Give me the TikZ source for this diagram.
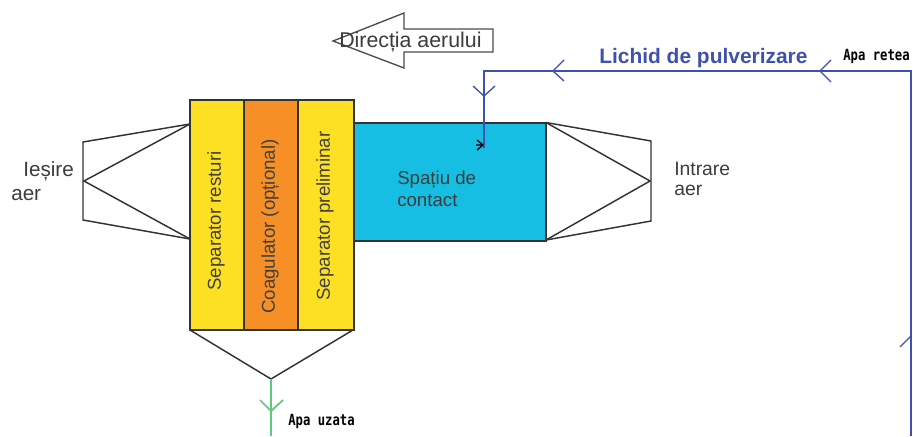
\documentclass[tikz,border=0pt]{standalone}
\usepackage{fontspec}
\setmainfont{Liberation Sans}
\newfontfamily\pixfont{DejaVu Sans Mono}
\definecolor{sepyellow}{HTML}{FDE023}
\definecolor{coagorange}{HTML}{F58F26}
\definecolor{contactblue}{HTML}{15BEE2}
\definecolor{pipeblue}{HTML}{3F51B0}
\definecolor{pipegreen}{HTML}{5CCB7A}
\definecolor{labelgrey}{HTML}{3C3C3C}
\definecolor{edgegrey}{HTML}{333333}
\tikzset{
  x=0.75pt,y=-0.75pt,
  chamber/.style={draw=edgegrey,line width=1.5pt,inner sep=0pt,outer sep=0pt,anchor=north west},
  vlabel/.style={rotate=90,font=\fontsize{14}{16}\selectfont,text=black!75,inner sep=0pt},
  lbl/.style={font=\fontsize{14}{16}\selectfont,text=labelgrey,inner sep=0pt,anchor=base west},
  tag/.style={font=\pixfont\bfseries\fontsize{11.5}{13}\selectfont,text=black,inner sep=0pt,anchor=base west},
  funnel/.style={draw=black!80,line width=1.1pt,line join=miter},
  pipe/.style={draw=pipeblue,line width=1pt},
  drain/.style={draw=pipegreen,line width=1.3pt},
}
\begin{document}
\begin{tikzpicture}
\useasboundingbox (0,0) rectangle (913,436);
% chambers
\node[chamber,fill=contactblue,minimum width=144pt,minimum height=88.5pt] (contact) at (354,122.5) {};
\node[chamber,fill=sepyellow,minimum width=40.5pt,minimum height=172.5pt] (rest) at (190,100) {};
\node[chamber,fill=coagorange,minimum width=40.5pt,minimum height=172.5pt] (coag) at (244,100) {};
\node[chamber,fill=sepyellow,minimum width=42pt,minimum height=172.5pt] (prelim) at (298,100) {};
\node[vlabel] (t1) at (216,221) {Separator resturi};
\node[vlabel] (t2) at (270,226.5) {Coagulator (opțional)};
\node[vlabel] (t3) at (325,216) {Separator preliminar};
% outlet funnel
\coordinate (lt) at (190,124);
\coordinate (lb) at (190,239);
\coordinate (ltt) at (83,142);
\coordinate (lbb) at (83,220);
\coordinate (lm) at (84,181);
\draw[funnel] (lt) -- (ltt) -- (lbb) -- (lb);
\draw[funnel] (lt) -- (lm) -- (lb);
% inlet funnel
\coordinate (rt) at (546,122.5);
\coordinate (rb) at (546,240);
\coordinate (rtt) at (651,141);
\coordinate (rbb) at (651,221);
\coordinate (rm) at (650,181);
\draw[funnel] (rt) -- (rtt) -- (rbb) -- (rb);
\draw[funnel] (rt) -- (rm) -- (rb);
% bottom hopper
\coordinate (hl) at (190,330);
\coordinate (hr) at (353,330);
\coordinate (hm) at (271,379);
\draw[funnel] (hl) -- (hm) -- (hr);
% drain
\coordinate (dend) at (271,436);
\coordinate (da) at (271,411);
\coordinate (dal) at (260,400);
\coordinate (dar) at (283,400);
\draw[drain] (hm) -- (dend);
\draw[drain] (dal) -- (da) -- (dar);
% pipe
\coordinate (p0) at (911,436);
\coordinate (p1) at (911,71);
\coordinate (p2) at (484,71);
\coordinate (p3) at (484,148);
\draw[pipe,line join=miter] (p0) -- (p1) -- (p2) -- (p3);
% pipe chevrons
\coordinate (c1) at (820,71);
\coordinate (c1a) at (831,60);
\coordinate (c1b) at (831,82);
\draw[pipe] (c1a) -- (c1) -- (c1b);
\coordinate (c2) at (553,71);
\coordinate (c2a) at (564,60);
\coordinate (c2b) at (564,81);
\draw[pipe] (c2a) -- (c2) -- (c2b);
\coordinate (c3) at (484,96);
\coordinate (c3a) at (473,86);
\coordinate (c3b) at (495,86);
\draw[pipe] (c3a) -- (c3) -- (c3b);
\coordinate (c4) at (911,336);
\coordinate (c4a) at (900,347);
\draw[pipe] (c4a) -- (c4);
% nozzle
\coordinate (nz0) at (483,145);
\coordinate (nz1) at (477,140);
\coordinate (nz2) at (477,150);
\coordinate (nz3) at (476,145);
\draw[black,line width=1pt] (nz1) -- (nz0) (nz2) -- (nz0) (nz3) -- (nz0);
% air direction arrow
\coordinate (a0) at (333,41);
\coordinate (a1) at (404,13);
\coordinate (a2) at (404,29);
\coordinate (a3) at (493,29);
\coordinate (a4) at (493,52);
\coordinate (a5) at (404,52);
\coordinate (a6) at (404,68);
\draw[draw=black!70,line width=1pt,fill=white] (a0) -- (a1) -- (a2) -- (a3) -- (a4) -- (a5) -- (a6) -- cycle;
\node[lbl,font=\fontsize{16}{18}\selectfont] (dir) at (339,47) {Direcția aerului};
% labels
\node[font=\bfseries\fontsize{15.7}{18}\selectfont,text=pipeblue,inner sep=0pt,anchor=base west] (liq) at (599,63) {Lichid de pulverizare};
\node[tag] (ar) at (843,60) {\scalebox{0.8}[1]{Apa retea}};
\node[tag] (au) at (288,425) {\scalebox{0.8}[1]{Apa uzata}};
\node[lbl] (st) at (397,184) {Spațiu de};
\node[lbl] (sc) at (397,206) {contact};
\node[lbl,font=\fontsize{15.5}{18}\selectfont] (ie) at (23,176) {Ieșire};
\node[lbl,font=\fontsize{15.5}{18}\selectfont] (ia) at (11,200) {aer};
\node[lbl,font=\fontsize{14.5}{17}\selectfont] (in) at (674,175) {Intrare};
\node[lbl,font=\fontsize{14.5}{17}\selectfont] (ina) at (674,195) {aer};
\end{tikzpicture}
\end{document}
